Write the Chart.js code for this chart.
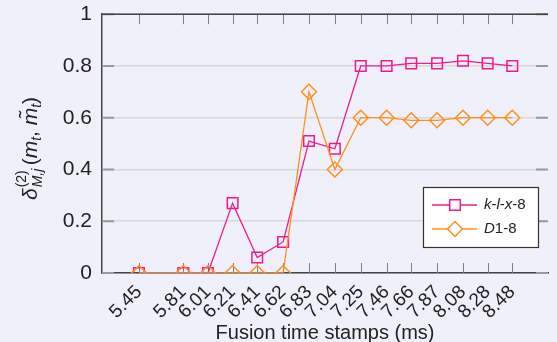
<!DOCTYPE html>
<html>
<head>
<meta charset="utf-8">
<script src="https://cdn.jsdelivr.net/npm/chart.js@4.4.0/dist/chart.umd.min.js"></script>
<style>
  html, body { margin: 0; padding: 0; background: #eff0f9; }
</style>
</head>
<body>
<canvas id="chart" width="557" height="342"></canvas>
<script>
// fusion time stamps (ms) -- also the x tick labels
const stamps = [5.45, 5.81, 6.01, 6.21, 6.41, 6.62, 6.83, 7.04, 7.25, 7.46, 7.66, 7.87, 8.08, 8.28, 8.48];
const klx8 = [0, 0, 0, 0.27, 0.06, 0.12, 0.51, 0.48, 0.80, 0.80, 0.81, 0.81, 0.82, 0.81, 0.80];
const d18 = [0, 0, 0, 0, 0, 0, 0.70, 0.40, 0.60, 0.60, 0.59, 0.59, 0.60, 0.60, 0.60];
const yTicks = [0, 0.2, 0.4, 0.6, 0.8, 1];

const PINK = '#ec1c8f';
const ORANGE = '#ff901e';
const FONT = "'Liberation Sans', Arial, sans-serif";

// draw a run of [text, italic, size, dy] pieces, returns end x
function drawRun(ctx, x, y, parts) {
    parts.forEach(p => {
        ctx.font = (p[1] ? 'italic ' : '') + p[2] + 'px ' + FONT;
        ctx.fillText(p[0], x, y + (p[3] || 0));
        x += ctx.measureText(p[0]).width;
    });
    return x;
}

const framePlugin = {
    id: 'frame',
    beforeDatasetsDraw(chart) {
        const { ctx, chartArea: a, scales } = chart;
        ctx.save();
        ctx.strokeStyle = '#808080';
        ctx.lineWidth = 1;
        stamps.forEach(v => {
            const x = Math.round(scales.x.getPixelForValue(v)) + 0.5;
            ctx.beginPath();
            ctx.moveTo(x, a.bottom); ctx.lineTo(x, a.bottom - 10);
            ctx.moveTo(x, a.top); ctx.lineTo(x, a.top + 10);
            ctx.stroke();
        });
        ctx.strokeStyle = '#999';
        ctx.lineWidth = 2;
        yTicks.forEach(v => {
            const y = scales.y.getPixelForValue(v);
            ctx.beginPath();
            ctx.moveTo(a.left, y); ctx.lineTo(a.left + 12, y);
            ctx.moveTo(a.right, y); ctx.lineTo(a.right - 12, y);
            ctx.stroke();
        });
        // top border
        ctx.strokeStyle = '#444';
        ctx.lineWidth = 1.5;
        ctx.beginPath();
        ctx.moveTo(a.left, a.top); ctx.lineTo(a.right, a.top);
        ctx.stroke();
        ctx.restore();
    },
    afterDraw(chart) {
        const ctx = chart.ctx;
        ctx.save();
        // y axis title
        ctx.fillStyle = '#222';
        ctx.textBaseline = 'alphabetic';
        ctx.translate(37, 200);
        ctx.rotate(-Math.PI / 2);
        let x = drawRun(ctx, 0, 0, [['δ', true, 21]]);
        ctx.font = '14px ' + FONT;
        ctx.fillText('(2)', x + 1, -11);
        ctx.font = 'italic 14px ' + FONT;
        ctx.fillText('M,j', x + 1, 5);
        x += 1 + Math.max(ctx.measureText('M,j').width, 19) + 3;
        x = drawRun(ctx, x, 0, [['(', false, 21], ['m', true, 21], ['t', true, 14, 4], [', ', false, 21],
            ['m̃', true, 21], ['t', true, 14, 4], [')', false, 21]]);
        ctx.restore();

        // legend box
        ctx.save();
        const bx = 423, by = 187, bw = 115, bh = 60;
        ctx.fillStyle = '#ffffff';
        ctx.fillRect(bx, by, bw, bh);
        ctx.strokeStyle = '#333';
        ctx.lineWidth = 1.2;
        ctx.strokeRect(bx + 0.5, by + 0.5, bw, bh);
        const rows = [
            { color: PINK, style: 'rect', y: 205, parts: [['k', true], ['-', false], ['l', true], ['-', false], ['x', true], ['-8', false]] },
            { color: ORANGE, style: 'rectRot', y: 229, parts: [['D', true], ['1-8', false]] }
        ];
        rows.forEach(r => {
            ctx.strokeStyle = r.color;
            ctx.lineWidth = 1.3;
            ctx.beginPath();
            ctx.moveTo(432, r.y); ctx.lineTo(477, r.y);
            ctx.stroke();
            ctx.lineWidth = 1.5;
            ctx.fillStyle = '#ffffff';
            Chart.helpers.drawPoint(ctx, { pointStyle: r.style, radius: 7.5, borderWidth: 1.5 }, 455, r.y);
            ctx.fillStyle = '#222';
            ctx.textBaseline = 'middle';
            drawRun(ctx, 484, r.y, r.parts.map(p => [p[0], p[1], 15]));
        });
        ctx.restore();
    }
};

new Chart(document.getElementById('chart'), {
    type: 'line',
    data: {
        datasets: [
            {
                label: 'k-l-x-8',
                data: stamps.map((t, i) => ({ x: t, y: klx8[i] })),
                borderColor: PINK,
                borderWidth: 1.3,
                pointStyle: 'rect',
                pointRadius: 7.5,
                pointBorderColor: PINK,
                pointBackgroundColor: 'rgba(0,0,0,0)',
                pointBorderWidth: 1.5,
                tension: 0,
                order: 1
            },
            {
                label: 'D1-8',
                data: stamps.map((t, i) => ({ x: t, y: d18[i] })),
                borderColor: ORANGE,
                borderWidth: 1.3,
                pointStyle: 'rectRot',
                pointRadius: 7.5,
                pointBorderColor: ORANGE,
                pointBackgroundColor: 'rgba(0,0,0,0)',
                pointBorderWidth: 1.5,
                tension: 0,
                order: 0
            }
        ]
    },
    options: {
        responsive: false,
        animation: false,
        devicePixelRatio: 1,
        layout: { padding: { left: 0, top: 14, right: 0, bottom: 0 } },
        scales: {
            x: {
                type: 'linear',
                min: 5.15,
                max: 8.77,
                afterBuildTicks: s => { s.ticks = stamps.map(v => ({ value: v })); },
                afterFit: s => { s.height = 69; },
                grid: { display: false },
                border: { display: true, color: '#444', width: 1.5 },
                ticks: {
                    autoSkip: false,
                    minRotation: 45,
                    maxRotation: 45,
                    padding: 0,
                    color: '#222',
                    font: { family: FONT, size: 19 },
                    callback: v => v.toFixed(2)
                },
                title: {
                    display: true,
                    text: 'Fusion time stamps (ms)',
                    color: '#222',
                    font: { family: FONT, size: 20, lineHeight: 0.9 },
                    padding: 0
                }
            },
            y: {
                min: 0,
                max: 1,
                afterBuildTicks: s => { s.ticks = yTicks.map(v => ({ value: v })); },
                afterFit: s => { s.width = 102; },
                grid: { color: '#d8d8dd', lineWidth: 1.5, drawTicks: false },
                border: { display: true, color: '#444', width: 1.5 },
                ticks: {
                    padding: 10,
                    color: '#222',
                    font: { family: FONT, size: 21, lineHeight: 0.4 },
                    callback: v => String(v)
                }
            }
        },
        plugins: {
            legend: { display: false },
            tooltip: { enabled: false }
        }
    },
    plugins: [framePlugin]
});
</script>
</body>
</html>
